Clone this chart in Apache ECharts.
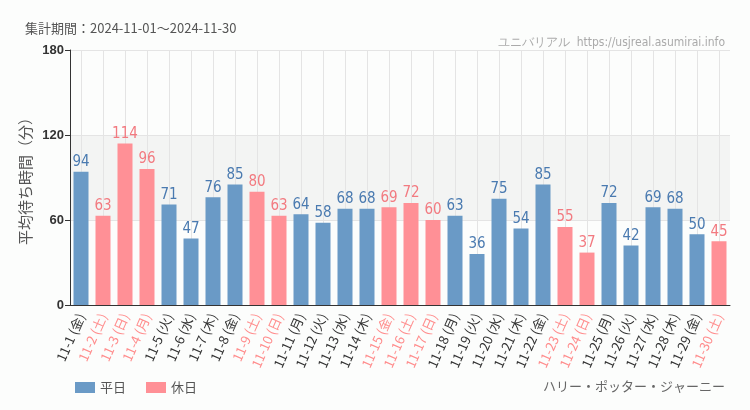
<!DOCTYPE html>
<html><head><meta charset="utf-8">
<script src="https://cdn.jsdelivr.net/npm/echarts@6/dist/echarts.min.js"></script>
<style>html,body{margin:0;padding:0;background:#fcfdfc}#c{width:750px;height:410px}</style>
</head><body><div id="c"></div>
<script>
const dates = ['11-1','11-2','11-3','11-4','11-5','11-6','11-7','11-8','11-9','11-10','11-11','11-12','11-13','11-14','11-15','11-16','11-17','11-18','11-19','11-20','11-21','11-22','11-23','11-24','11-25','11-26','11-27','11-28','11-29','11-30'];
const weekdays = ['金','土','日','月','火','水','木','金','土','日','月','火','水','木','金','土','日','月','火','水','木','金','土','日','月','火','水','木','金','土'];
const values = [94,63,114,96,71,47,76,85,80,63,64,58,68,68,69,72,60,63,36,75,54,85,55,37,72,42,69,68,50,45];
const holiday = [0,1,1,1,0,0,0,0,1,1,0,0,0,0,1,1,1,0,0,0,0,0,1,1,0,0,0,0,0,1];
const yTicks = [0,60,120,180];

const cats = dates.map((d,i)=>d+' ('+weekdays[i]+')');
const wk = values.map((v,i)=>holiday[i]?'-':v);
const hd = values.map((v,i)=>holiday[i]?v:'-');
const numFont = '"DejaVu Sans Condensed","Liberation Sans Narrow",sans-serif';
const jp = '"Noto Sans CJK JP",sans-serif';
const chart = echarts.init(document.getElementById('c'));
chart.setOption({
  backgroundColor:'#fcfdfc',
  animation:false,
  title:[
    {text:'集計期間：2024-11-01～2024-11-30',left:20,top:17,textStyle:{fontSize:13,fontWeight:'normal',color:'#555',fontFamily:jp}},
    {text:'ユニバリアル  https://usjreal.asumirai.info',right:20,top:32,textStyle:{fontSize:12,fontWeight:'normal',color:'#aaa',fontFamily:numFont}},
    {text:'ハリー・ポッター・ジャーニー',right:20,top:375,textStyle:{fontSize:13,fontWeight:'normal',color:'#666',fontFamily:jp}}
  ],
  legend:{left:70,top:376,itemWidth:20,itemHeight:11,itemGap:20,icon:'rect',textStyle:{fontSize:13,color:'#555',fontFamily:jp},data:['平日','休日']},
  grid:{left:70,right:20,top:50,bottom:105,containLabel:false},
  xAxis:{type:'category',data:cats,
    axisLine:{lineStyle:{color:'#333'}},
    axisTick:{alignWithLabel:true,lineStyle:{color:'#333'}},
    splitLine:{show:true,alignWithLabel:true,lineStyle:{color:'#e4e4e4'}},
    axisLabel:{interval:0,rotate:66,fontSize:13,margin:9,fontFamily:jp,
      color:(v,i)=>holiday[i]?'#ff8c8c':'#333'}},
  yAxis:{type:'value',min:yTicks[0],max:yTicks[3],interval:60,
    name:'平均待ち時間（分）',nameLocation:'middle',nameGap:37,nameRotate:90,nameMoveOverlap:false,
    nameTextStyle:{fontSize:15,color:'#555',fontFamily:jp},
    axisLine:{show:true,lineStyle:{color:'#333'}},
    axisTick:{show:true,lineStyle:{color:'#333'}},
    axisLabel:{fontSize:13,color:'#333',fontWeight:'bold',margin:6},
    splitLine:{show:true,lineStyle:{color:'#e4e4e4'}},
    splitArea:{show:true,areaStyle:{color:['rgba(0,0,0,0)','#f3f4f3','rgba(0,0,0,0)']}}},
  series:[
    {name:'平日',type:'bar',stack:'a',barWidth:15,data:wk,itemStyle:{color:'#6a9ac6'},
     label:{show:true,position:'top',distance:2,color:'#4a7ab0',fontSize:15,fontFamily:numFont}},
    {name:'休日',type:'bar',stack:'a',barWidth:15,data:hd,itemStyle:{color:'#ff9096'},
     label:{show:true,position:'top',distance:2,color:'#f27a80',fontSize:15,fontFamily:numFont}}
  ]
});
</script></body></html>
